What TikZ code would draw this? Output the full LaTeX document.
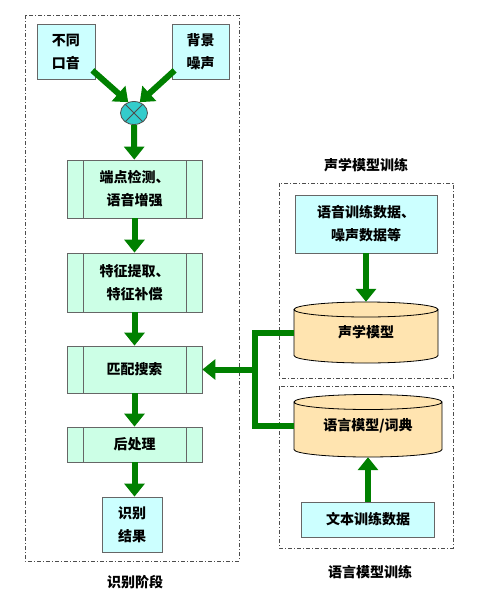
\documentclass[tikz,border=0pt]{standalone}
\usepackage{fontspec}
\setmainfont{Noto Sans CJK SC}
\usetikzlibrary{arrows.meta,shapes.geometric,calc}
\definecolor{flowgreen}{RGB}{0,128,0}
\definecolor{srcfill}{RGB}{204,255,255}
\definecolor{procfill}{RGB}{204,255,230}
\definecolor{cylfill}{RGB}{255,228,176}
\definecolor{mixfill}{RGB}{51,204,204}
\begin{document}
\begin{tikzpicture}
    [x=1pt,y=-1pt,
    every node/.style={font=\fontsize{14}{23}\selectfont\bfseries,align=center,inner sep=0pt},
    srcbox/.style={rectangle,draw=black!60,fill=srcfill,thick},
    procbox/.style={rectangle,draw=black!60,fill=procfill,thick,minimum width=135pt,
        path picture={\draw[black!60,thick]
            ([xshift=16pt]path picture bounding box.north west) -- ([xshift=16pt]path picture bounding box.south west)
            ([xshift=-16pt]path picture bounding box.north east) -- ([xshift=-16pt]path picture bounding box.south east);}},
    frame/.style={draw=black!70,thick,dash pattern=on 4pt off 2pt on 1pt off 2pt},
    flow/.style={draw=flowgreen,line width=6pt,-{Triangle[width=20pt,length=13pt]}},
    busline/.style={draw=flowgreen,line width=6pt}]

    \useasboundingbox (0,0) rectangle (480,606);
    %\draw[help lines] (0,0) grid[step=20] (480,606);

    % frames
    \draw[frame] (25,15) rectangle (239,561);
    \draw[frame] (279,183) rectangle (453,378);
    \draw[frame] (279,386) rectangle (453,548);
    \node (recog) at (135,582) {识别阶段};
    \node (amtitle) at (366,165) {声学模型训练};
    \node (lmtitle) at (370,572) {语言模型训练};

    % recognition stage
    \node[srcbox,minimum width=58pt,minimum height=55pt] (accent) at (66,51.5) {不同\\口音};
    \node[srcbox,minimum width=57pt,minimum height=55pt] (noise) at (200.5,51.5) {背景\\噪声};
    \node[ellipse,draw=black!70,thick,fill=mixfill,minimum width=27pt,minimum height=23pt] (mix) at (134,113) {};
    \draw[black!70,thick] (mix.45) -- (mix.225) (mix.135) -- (mix.315);
    \node[procbox,minimum height=58pt] (detect) at (134.5,189) {端点检测、\\语音增强};
    \node[procbox,minimum height=59pt] (feature) at (134.5,282.5) {特征提取、\\特征补偿};
    \node[procbox,minimum height=47pt] (search) at (134.5,369.5) {匹配搜索};
    \node[procbox,minimum height=35pt] (post) at (134.5,444.5) {后处理};
    \node[srcbox,minimum width=60pt,minimum height=55pt] (result) at (132,524.5) {识别\\结果};

    % training
    \node[srcbox,minimum width=142pt,minimum height=58pt] (amdata) at (366,224) {语音训练数据、\\噪声数据等};
    \fill[cylfill] (294,309.5) -- (294,355.5) arc[start angle=180,end angle=0,x radius=72,y radius=7.5]
          -- (438,309.5) arc[start angle=0,end angle=-180,x radius=72,y radius=7.5] -- cycle;
    \draw[thick] (294,309.5) -- (294,355.5) arc[start angle=180,end angle=0,x radius=72,y radius=7.5]
          -- (438,309.5) (366,309.5) ellipse[x radius=72,y radius=7.5];
    \node[minimum width=144pt,minimum height=61pt] (am) at (366,332.5) {声学模型};
    \fill[cylfill] (294,402) -- (294,449.5) arc[start angle=180,end angle=0,x radius=74,y radius=7.5]
          -- (442,402) arc[start angle=0,end angle=-180,x radius=74,y radius=7.5] -- cycle;
    \draw[thick] (294,402) -- (294,449.5) arc[start angle=180,end angle=0,x radius=74,y radius=7.5]
          -- (442,402) (368,402) ellipse[x radius=74,y radius=7.5];
    \node[minimum width=148pt,minimum height=63pt] (lm) at (368,425.5) {语言模型/词典};
    \node[srcbox,minimum width=133pt,minimum height=35pt] (textdata) at (368,519.5) {文本训练数据};

    % connectors
    \draw[flow] (accent.south east) ++(-3,-9) coordinate (a1) -- (mix.118);
    \draw[flow] (noise.south west) ++(3,-9) coordinate (n1) -- (mix.62);
    \draw[flow] (mix) -- (detect);
    \draw[flow] (detect) -- (feature);
    \draw[flow] (feature) -- (search);
    \draw[flow] (search) -- (post);
    \draw[flow] (post.south) -- (post.south |- result.north);
    \draw[flow] (amdata) -- (am);
    \draw[flow] (textdata) -- (lm);
    \coordinate (bus) at (255,369.5);
    \draw[busline] (am.west) -| (bus) |- (lm.west);
    \draw[flow] (bus) -- (search.east);
\end{tikzpicture}
\end{document}
